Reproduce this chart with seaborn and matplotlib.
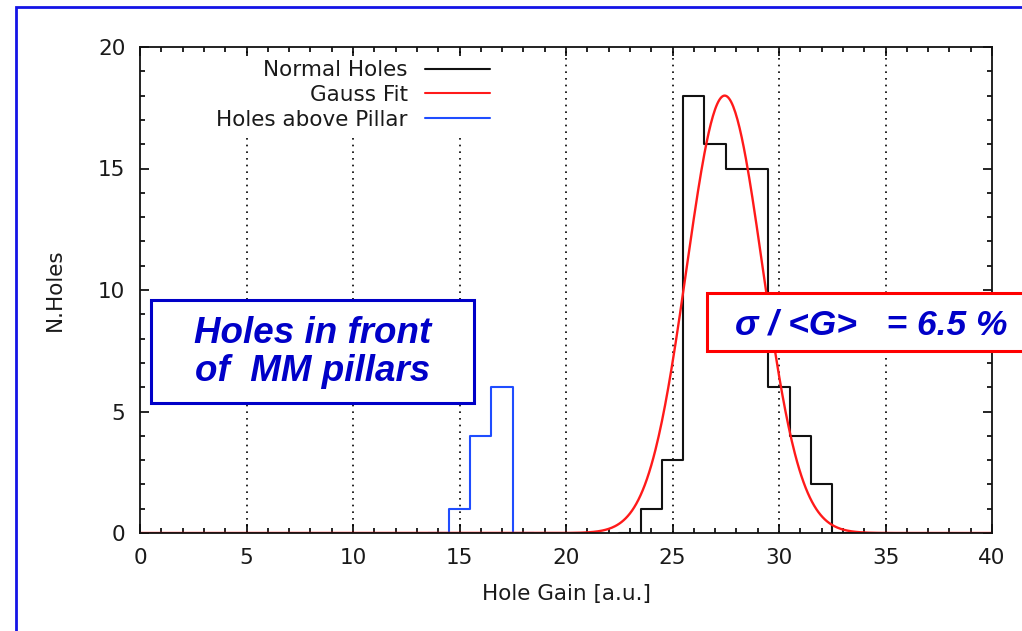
import numpy as np
import pandas as pd
import matplotlib
matplotlib.use("Agg")
import matplotlib.pyplot as plt
from matplotlib.patches import Rectangle
from matplotlib.lines import Line2D
from matplotlib.ticker import MultipleLocator
import seaborn as sns

# Hole gain bin centres (a.u.) and number of holes per bin
normal_gain = [24, 25, 26, 27, 28, 29, 30, 31, 32]
normal_count = [1, 3, 18, 16, 15, 15, 6, 4, 2]
pillar_gain = [15, 16, 17]
pillar_count = [1, 4, 6]

# Gaussian fit of the normal holes: sigma / <G> = 6.5 %
fit_mean = 27.45
fit_rel_sigma = 0.065
fit_amplitude = 18.0

x_ticks = [0, 5, 10, 15, 20, 25, 30, 35, 40]
y_ticks = [0, 5, 10, 15, 20]
series_labels = ["Normal Holes", "Gauss Fit", "Holes above Pillar"]

normal_df = pd.DataFrame({"gain": normal_gain, "count": normal_count})
pillar_df = pd.DataFrame({"gain": pillar_gain, "count": pillar_count})

W, H = 1022, 631
sns.set_style("ticks")
plt.rcParams["font.family"] = ["DejaVu Sans"]
plt.rcParams["axes.linewidth"] = 1.3

fig = plt.figure(figsize=(W / 100, H / 100), dpi=100)
ax = fig.add_axes([140 / W, 1 - 533 / H, (992 - 140) / W, (533 - 47) / H])

BLACK = "#111111"
RED = "#ff1a1a"
BLUE = "#1f4dff"
DARK_BLUE = "#0000c8"

# Histograms (unit-width bins, with an empty bin on each side)
sns.histplot(data=normal_df, x="gain", weights="count", binwidth=1, binrange=(22.5, 33.5),
             element="step", fill=False, color=BLACK, linewidth=1.5, ax=ax)
sns.histplot(data=pillar_df, x="gain", weights="count", binwidth=1, binrange=(13.5, 18.5),
             element="step", fill=False, color=BLUE, linewidth=1.5, ax=ax)

# Gaussian fit curve
gx = np.linspace(0, 40, 801)
sigma = fit_rel_sigma * fit_mean
gy = fit_amplitude * np.exp(-0.5 * ((gx - fit_mean) / sigma) ** 2)
sns.lineplot(x=gx, y=gy, color=RED, linewidth=1.7, ax=ax, sort=False,
             errorbar=None)

for ln in ax.lines:
    ln.set_zorder(2)

# Dotted vertical grid at major x ticks
for xv in x_ticks[1:-1]:
    ax.axvline(xv, color="black", linestyle=(0, (1, 3)), linewidth=1.2, zorder=0.5)

ax.set_xlim(0, 40)
ax.set_ylim(0, 20)
ax.set_xticks(x_ticks)
ax.set_yticks(y_ticks)
ax.xaxis.set_minor_locator(MultipleLocator(1))
ax.yaxis.set_minor_locator(MultipleLocator(1))
ax.tick_params(which="both", direction="in", top=True, right=True,
               labelsize=15.5, color="black", labelcolor="#1a1a1a", pad=10.5)
ax.tick_params(which="major", length=6.5, width=1.2)
ax.tick_params(which="minor", length=3.5, width=1.2)
for s in ax.spines.values():
    s.set_color(BLACK)
    s.set_zorder(3)

ax.set_xlabel("Hole Gain [a.u.]", fontsize=15.5, color="#1a1a1a", labelpad=12)
ax.set_ylabel("N.Holes", fontsize=15.5, color="#1a1a1a", labelpad=24)

handles = [Line2D([], [], color=BLACK, lw=1.5),
           Line2D([], [], color=RED, lw=1.5),
           Line2D([], [], color=BLUE, lw=1.5)]
leg = ax.legend(handles, series_labels, loc="upper right",
                bbox_to_anchor=(493 / W, 1 - 57 / H), bbox_transform=fig.transFigure,
                markerfirst=False, fontsize=15.5, handlelength=3.0,
                handletextpad=0.8, labelspacing=0.22, borderpad=0.15,
                borderaxespad=0, frameon=True, fancybox=False)
leg.get_frame().set_facecolor("white")
leg.get_frame().set_edgecolor("none")
leg.get_frame().set_alpha(1)
for t in leg.get_texts():
    t.set_color("#1a1a1a")
leg.set_zorder(1)

# Outer slide frame
fig.add_artist(Rectangle((16 / W, -0.1), 1.2, (1 - 7 / H) + 0.1, transform=fig.transFigure,
                         fill=False, edgecolor="#1414e6", linewidth=2, zorder=5))

# Annotation boxes
fig.add_artist(Rectangle((151 / W, 1 - 403 / H), (474 - 151) / W, (403 - 300) / H,
                         transform=fig.transFigure, facecolor="white",
                         edgecolor=DARK_BLUE, linewidth=2.2, zorder=4))
fig.add_artist(Rectangle((707 / W, 1 - 351 / H), 0.4, (351 - 293) / H,
                         transform=fig.transFigure, facecolor="white",
                         edgecolor="#ff0000", linewidth=2.2, zorder=4))

box_font = dict(family=["Liberation Sans", "DejaVu Sans"], weight="bold",
                style="italic", color=DARK_BLUE, zorder=6)
fig.text(313 / W, 1 - 343 / H, "Holes in front", ha="center", va="baseline",
         fontsize=26.5, **box_font)
fig.text(313 / W, 1 - 381 / H, "of  MM pillars", ha="center", va="baseline",
         fontsize=26.5, **box_font)
fig.text(735 / W, 1 - 334 / H, "\u03c3 / <G>   = 6.5 %", ha="left", va="baseline",
         fontsize=25.5, **box_font)

fig.savefig("out.png", dpi=100)
